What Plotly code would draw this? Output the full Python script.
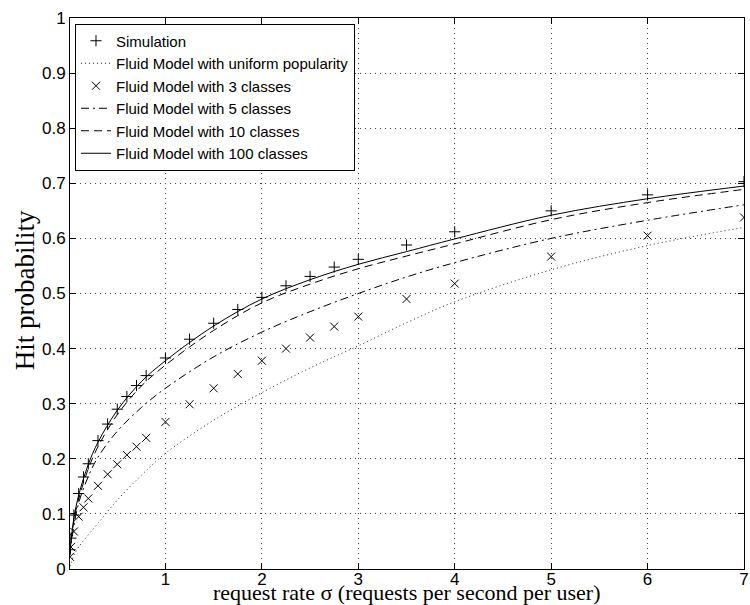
import plotly.graph_objects as go

# ---- data ----
sim_x = [0.01, 0.02, 0.05, 0.1, 0.15, 0.2, 0.3, 0.4, 0.5, 0.6, 0.7, 0.8, 1, 1.25, 1.5, 1.75,
         2, 2.25, 2.5, 2.75, 3, 3.5, 4, 5, 6, 7]
sim_y = [0.035, 0.056, 0.098, 0.137, 0.167, 0.191, 0.233, 0.263, 0.29, 0.313, 0.333, 0.351,
         0.383, 0.417, 0.446, 0.471, 0.493, 0.514, 0.531, 0.548, 0.562, 0.588, 0.612, 0.65,
         0.679, 0.703]
cls3_y = [0.022, 0.04, 0.068, 0.095, 0.112, 0.128, 0.151, 0.172, 0.19, 0.207, 0.222, 0.238,
          0.267, 0.299, 0.328, 0.354, 0.378, 0.40, 0.42, 0.44, 0.458, 0.49, 0.518, 0.567,
          0.605, 0.638]

model_x = [0.01, 0.02, 0.05, 0.1, 0.2, 0.3, 0.5, 0.75, 1, 1.5, 2, 2.5, 3, 3.5, 4, 5, 6, 7]
uniform_y = [0.005, 0.01, 0.025, 0.04, 0.062, 0.083, 0.125, 0.17, 0.21, 0.27, 0.32, 0.365,
             0.405, 0.447, 0.485, 0.543, 0.587, 0.62]
cls5_y = [0.026, 0.043, 0.078, 0.12, 0.168, 0.203, 0.25, 0.293, 0.328, 0.385, 0.43, 0.467,
          0.5, 0.53, 0.556, 0.6, 0.633, 0.661]
cls10_y = [0.028, 0.047, 0.087, 0.127, 0.182, 0.222, 0.28, 0.332, 0.37, 0.433, 0.483, 0.517,
           0.545, 0.568, 0.59, 0.634, 0.665, 0.689]
cls100_y = [0.03, 0.05, 0.092, 0.134, 0.19, 0.23, 0.288, 0.34, 0.378, 0.441, 0.49, 0.525,
            0.553, 0.576, 0.599, 0.642, 0.672, 0.695]

x_ticks = [1, 2, 3, 4, 5, 6, 7]
y_ticks = [0, 0.1, 0.2, 0.3, 0.4, 0.5, 0.6, 0.7, 0.8, 0.9, 1]
y_tick_text = ["0", "0.1", "0.2", "0.3", "0.4", "0.5", "0.6", "0.7", "0.8", "0.9", "1"]

names = ["Simulation", "Fluid Model with uniform popularity", "Fluid Model with 3 classes",
         "Fluid Model with 5 classes", "Fluid Model with 10 classes", "Fluid Model with 100 classes"]
x_title = "request rate σ (requests per second per user)"
y_title = "Hit probability"

fig = go.Figure()
fig.add_trace(go.Scatter(x=sim_x, y=sim_y, mode="markers", name=names[0],
                         marker=dict(symbol="cross-thin-open", size=8, color="black",
                                     line=dict(width=1, color="black"))))
fig.add_trace(go.Scatter(x=model_x, y=uniform_y, mode="lines", name=names[1], line_shape="spline",
                         line=dict(color="#222", width=1, dash="1px,3px")))
fig.add_trace(go.Scatter(x=sim_x, y=cls3_y, mode="markers", name=names[2],
                         marker=dict(symbol="x-thin-open", size=8, color="black",
                                     line=dict(width=1, color="black"))))
fig.add_trace(go.Scatter(x=model_x, y=cls5_y, mode="lines", name=names[3], line_shape="spline",
                         line=dict(color="black", width=1, dash="8px,4px,2px,4px")))
fig.add_trace(go.Scatter(x=model_x, y=cls10_y, mode="lines", name=names[4], line_shape="spline",
                         line=dict(color="black", width=1, dash="8px,5px")))
fig.add_trace(go.Scatter(x=model_x, y=cls100_y, mode="lines", name=names[5], line_shape="spline",
                         line=dict(color="black", width=1)))

axis_common = dict(showline=True, linecolor="black", linewidth=1, mirror="ticks",
                   ticks="inside", ticklen=6, tickcolor="black", showgrid=True,
                   gridcolor="#444", gridwidth=1, griddash="1px,4px", zeroline=False,
                   ticklabeloverflow="allow")

fig.update_xaxes(range=[0.01, 7], tickvals=x_ticks, ticklabelstandoff=-5,
                 tickfont=dict(family="Liberation Sans, Arial", size=17, color="black"),
                 **axis_common)
fig.update_yaxes(range=[0, 1], tickvals=y_ticks, ticktext=y_tick_text,
                 tickfont=dict(family="Liberation Sans, Arial", size=17, color="black"),
                 **axis_common)

serif = "Liberation Serif, Times New Roman"
fig.add_annotation(text=x_title, xref="paper", yref="paper", x=0.5, y=-0.0675,
                   xanchor="center", yanchor="bottom", showarrow=False, borderpad=0,
                   font=dict(family=serif, size=22, color="black"))
fig.add_annotation(text=y_title, xref="paper", yref="paper", x=-0.0667, y=0.506,
                   xanchor="center", yanchor="middle", showarrow=False, textangle=-90,
                   font=dict(family=serif, size=27, color="black"))

fig.update_layout(width=750, height=605, margin=dict(l=70, r=6, t=18, b=36, autoexpand=False),
                  plot_bgcolor="white", paper_bgcolor="white",
                  legend=dict(x=0.0074, y=0.99, xanchor="left", yanchor="top",
                              bordercolor="black", borderwidth=1, bgcolor="white",
                              font=dict(family="Liberation Sans, Arial", size=15, color="black"),
                              tracegroupgap=0))

fig.write_html("out.html")
